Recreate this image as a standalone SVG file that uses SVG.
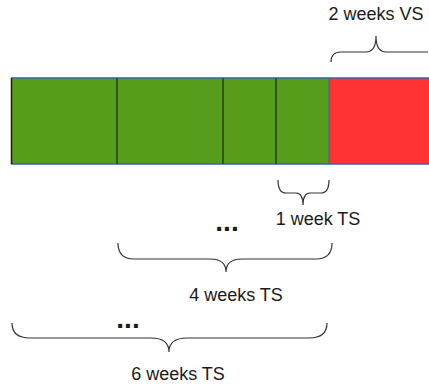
<svg xmlns="http://www.w3.org/2000/svg" width="429" height="388" viewBox="0 0 429 388">
  <style>
    .lbl { font-family: "Liberation Sans", Arial, sans-serif; font-size: 18px; fill: #1a1a1a; }
    .dots { font-family: "Liberation Sans", Arial, sans-serif; font-size: 28px; font-weight: bold; fill: #1a1a1a; }
    .brace { fill: none; stroke: #333333; stroke-width: 1.2; }
    .div { stroke: #2a3d18; stroke-width: 1.5; }
  </style>
  <rect width="429" height="388" fill="#ffffff"/>

  <!-- timeline bar -->
  <g id="bar">
    <rect x="11" y="78" width="318" height="86" fill="#579d1c"/>
    <rect x="329" y="78" width="100" height="86" fill="#ff3333"/>
    <line x1="11" y1="78" x2="429" y2="78" stroke="#3465a4" stroke-width="1.5"/>
    <line x1="11" y1="164" x2="429" y2="164" stroke="#3465a4" stroke-width="1.5"/>
    <line x1="11.5" y1="78" x2="11.5" y2="164" stroke="#1a1a1a" stroke-width="1.5"/>
    <line class="div" x1="117" y1="78" x2="117" y2="164"/>
    <line class="div" x1="223" y1="78" x2="223" y2="164"/>
    <line class="div" x1="276" y1="78" x2="276" y2="164"/>
    <line x1="329" y1="78" x2="329" y2="164" stroke="#3465a4" stroke-width="1"/>
  </g>

  <!-- braces -->
  <g id="braces">
    <path class="brace" d="M331,62 Q331,52 341,52 L366,52 Q376,52 376,36 Q376,52 386,52 L428,52"/>
    <path class="brace" d="M278,180 Q278,193 286,193 L296,193 Q303,193 303,205 Q303,193 310,193 L321,193 Q329,193 329,180"/>
    <path class="brace" d="M118,243 Q118,259 134,259 L210,259 Q226,259 226,272 Q226,259 242,259 L316,259 Q332,259 332,243"/>
    <path class="brace" d="M12,323 Q12,338 30,338 L151,338 Q169,338 169,352 Q169,338 187,338 L309,338 Q327,338 327,323"/>
  </g>

  <g id="label-vs"><text class="lbl" x="376" y="20" text-anchor="middle">2 weeks VS</text></g>
  <g id="label-1w"><text class="lbl" x="318" y="225" text-anchor="middle">1 week TS</text></g>
  <g id="label-4w">
    <text class="dots" x="227" y="231" text-anchor="middle">...</text>
    <text class="lbl" x="236" y="301" text-anchor="middle">4 weeks TS</text>
  </g>
  <g id="label-6w">
    <text class="dots" x="128" y="328" text-anchor="middle">...</text>
    <text class="lbl" x="178" y="380" text-anchor="middle">6 weeks TS</text>
  </g>
</svg>
